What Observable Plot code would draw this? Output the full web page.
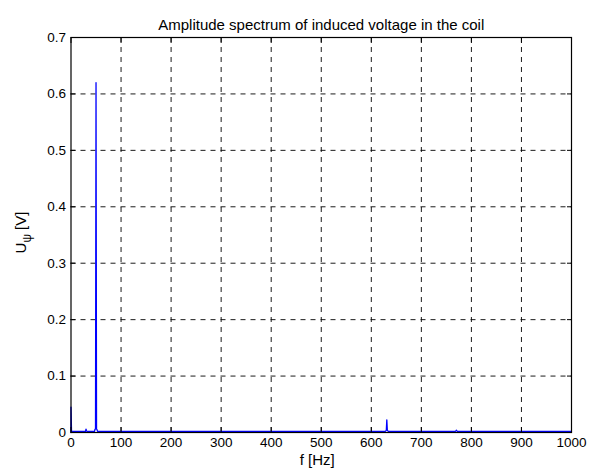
<!DOCTYPE html>
<html>
<head>
<meta charset="utf-8">
<script src="https://cdn.jsdelivr.net/npm/d3@7"></script>
<script src="https://cdn.jsdelivr.net/npm/@observablehq/plot@0.6"></script>
<style>
  html, body { margin: 0; padding: 0; background: #fff; }
  svg { display: block; }
</style>
</head>
<body>
<div id="chart"></div>
<script>
// Spectrum samples
const freqHz = [0, 0, 1, 2, 29, 30, 31, 32, 47, 48, 49, 50, 51, 52, 53, 300, 628, 629, 630, 631, 632, 633, 634, 768, 769, 770, 771, 772, 1000];
const amplitudeV = [0, 0.045, 0.003, 0.002, 0.002, 0.006, 0.003, 0.002, 0.002, 0.006, 0.006, 0.62, 0.006, 0.005, 0.002, 0.002, 0.002, 0.003, 0.004, 0.0225, 0.004, 0.003, 0.002, 0.002, 0.003, 0.004, 0.003, 0.002, 0.002];
const xTicks = [0, 100, 200, 300, 400, 500, 600, 700, 800, 900, 1000];
const yTicks = [0, 0.1, 0.2, 0.3, 0.4, 0.5, 0.6, 0.7];
const titleText = "Amplitude spectrum of induced voltage in the coil";
const xLabel = "f [Hz]";

const data = freqHz.map((f, i) => ({f, a: amplitudeV[i]}));
const font = "'Liberation Sans', Arial, Helvetica, sans-serif";

const W = 598, H = 472;
const mL = 70.5, mR = 27, mT = 37, mB = 40;

const chart = Plot.plot({
  width: W,
  height: H,
  marginLeft: mL,
  marginRight: mR,
  marginTop: mT,
  marginBottom: mB,
  style: {fontFamily: font, fontSize: "13.5px", color: "#000", background: "#fff"},
  x: {domain: [0, 1000], label: null},
  y: {domain: [0, 0.7], label: null},
  marks: [
    // dashed grid
    Plot.ruleX(xTicks.slice(1, -1), {stroke: "#000", strokeWidth: 0.9, strokeDasharray: "5,5", strokeOpacity: 1}),
    Plot.ruleY(yTicks.slice(1, -1), {stroke: "#000", strokeWidth: 0.9, strokeDasharray: "5,5", strokeOpacity: 1}),
    // spectrum
    Plot.line(data, {x: "f", y: "a", stroke: "#0000ff", strokeWidth: 1.3}),
    // tick labels
    Plot.axisX({ticks: xTicks, tickSize: 0, tickPadding: 5, tickFormat: d => String(d), fontSize: 13.5, label: null}),
    Plot.axisY({ticks: yTicks, tickSize: 0, tickPadding: 5, tickFormat: d => d === 0 ? "0" : d.toFixed(1), fontSize: 13.5, label: null}),
    // inward ticks on all four sides
    Plot.axisX({ticks: xTicks, tickSize: -5, tickFormat: () => "", label: null, strokeWidth: 1}),
    Plot.axisX({anchor: "top", ticks: xTicks, tickSize: -5, tickFormat: () => "", label: null, strokeWidth: 1}),
    Plot.axisY({ticks: yTicks, tickSize: -5, tickFormat: () => "", label: null, strokeWidth: 1}),
    Plot.axisY({anchor: "right", ticks: yTicks, tickSize: -5, tickFormat: () => "", label: null, strokeWidth: 1}),
    Plot.frame({stroke: "#000", strokeWidth: 1.2}),
    // title and x label
    Plot.text([titleText], {frameAnchor: "top", dy: -18, fontSize: 15, fill: "#000"}),
    Plot.text([xLabel], {frameAnchor: "bottom", dy: 32.5, dx: -4, fontSize: 15, fill: "#000"})
  ]
});

// y label with subscript psi
const svg = d3.select(chart);
const ylab = svg.append("text")
  .attr("transform", `translate(26, ${(mT + (H - mB)) / 2 - 2}) rotate(-90)`)
  .attr("text-anchor", "middle")
  .attr("font-family", font)
  .attr("font-size", 15)
  .attr("fill", "#000");
ylab.append("tspan").text("U");
ylab.append("tspan").attr("font-size", 12).attr("dy", 5).text("ψ");
ylab.append("tspan").attr("dy", -5).text(" [V]");

document.getElementById("chart").appendChild(chart);
</script>
</body>
</html>
